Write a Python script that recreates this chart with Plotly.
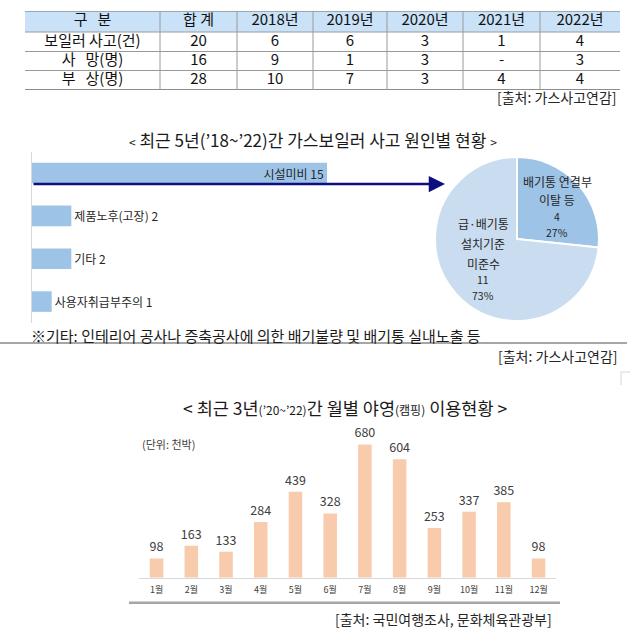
import plotly.graph_objects as go

FONT = "Noto Sans CJK KR"

# ---------------- data ----------------
table_header = ["구\u00a0\u00a0\u00a0분", "합\u00a0계", "2018년", "2019년", "2020년", "2021년", "2022년"]
row_labels = ["보일러 사고(건)", "사\u00a0\u00a0\u00a0망(명)", "부\u00a0\u00a0\u00a0상(명)"]
col_total = ["20", "16", "28"]
col_2018 = ["6", "9", "10"]
col_2019 = ["6", "1", "7"]
col_2020 = ["3", "3", "3"]
col_2021 = ["1", "-", "4"]
col_2022 = ["4", "3", "4"]

cause_labels = ["시설미비", "제품노후(고장)", "기타", "사용자취급부주의"]
cause_counts = [15, 2, 2, 1]

pie_labels = ["배기통 연결부<br>이탈 등", "급·배기통<br>설치기준<br>미준수"]
pie_values = [4, 11]

months = ["1월", "2월", "3월", "4월", "5월", "6월", "7월", "8월", "9월", "10월", "11월", "12월"]
camping = [98, 163, 133, 284, 439, 328, 680, 604, 253, 337, 385, 98]

W, H = 640, 644
def px(x):
    return x / W
def py(y):
    return 1 - y / H

fig = go.Figure()

# ---------------- table (text on its own cartesian axes) ----------------
col_widths = [135, 77, 76, 74, 76, 77, 80]
row_heights = [21, 19.5, 19, 19.5]
col_edges = [sum(col_widths[:i]) for i in range(len(col_widths) + 1)]
row_edges = [sum(row_heights[:i]) for i in range(len(row_heights) + 1)]
col_centers = [(col_edges[i] + col_edges[i + 1]) / 2 for i in range(len(col_widths))]
row_centers = [(row_edges[i] + row_edges[i + 1]) / 2 for i in range(len(row_heights))]

body_cols = [row_labels, col_total, col_2018, col_2019, col_2020, col_2021, col_2022]
tx, ty, tt = [], [], []
for ci, h in enumerate(table_header):
    tx.append(col_centers[ci]); ty.append(row_centers[0]); tt.append(h)
for ci, col in enumerate(body_cols):
    for ri, v in enumerate(col):
        tx.append(col_centers[ci]); ty.append(row_centers[ri + 1]); tt.append(v)
fig.add_trace(go.Scatter(
    x=tx, y=ty, text=tt, mode="text", textposition="middle center",
    textfont=dict(family=FONT, size=15, color="#111111"),
    xaxis="x3", yaxis="y3", hoverinfo="skip", cliponaxis=False,
))

# ---------------- horizontal bars ----------------
fig.add_trace(go.Bar(
    y=cause_labels, x=cause_counts, orientation="h",
    marker=dict(color="#9dc3e6", line=dict(width=0)),
    text=[f"{l} {v}" for l, v in zip(cause_labels, cause_counts)],
    textposition=["inside", "outside", "outside", "outside"],
    insidetextanchor="end",
    textfont=dict(family=FONT, size=12, color="#262626"),
    constraintext="none", cliponaxis=False,
    xaxis="x", yaxis="y", width=0.48, hoverinfo="skip",
))

# ---------------- pie ----------------
fig.add_trace(go.Pie(
    labels=pie_labels, values=pie_values, textinfo="none",
    marker=dict(colors=["#9dc3e6", "#c9dcf0"], line=dict(color="white", width=2)),
    sort=False, direction="clockwise", rotation=0,
    domain=dict(x=[px(435), px(599)], y=[py(321), py(157)]),
    showlegend=False, hoverinfo="skip",
))

# ---------------- monthly bars ----------------
fig.add_trace(go.Bar(
    x=months, y=camping,
    marker=dict(color="#f8cbad", line=dict(width=0)),
    text=[str(v) for v in camping], textposition="outside",
    textfont=dict(family=FONT, size=12.5, color="#404040"),
    constraintext="none", cliponaxis=False, width=0.39,
    xaxis="x2", yaxis="y2", hoverinfo="skip",
))

fig.update_layout(
    width=W, height=H, margin=dict(l=0, r=0, t=0, b=0),
    paper_bgcolor="white", plot_bgcolor="white", showlegend=False,
    font=dict(family=FONT, color="#262626"),
    xaxis=dict(domain=[px(32), px(327)], range=[0, 15], showgrid=False,
               zeroline=False, showticklabels=False, fixedrange=True),
    yaxis=dict(domain=[py(323), py(151.6)], autorange="reversed", showgrid=False,
               zeroline=False, showticklabels=False, showline=True,
               linecolor="#d9d9d9", linewidth=1, anchor="x"),
    xaxis2=dict(domain=[px(139.2), px(555.9)], anchor="y2", showgrid=False,
                zeroline=False, showline=True, linecolor="#d9d9d9", linewidth=1,
                ticks="", tickfont=dict(family=FONT, size=9, color="#404040"),
                ticklabelstandoff=3),
    yaxis2=dict(domain=[py(577.7), py(430.7)], anchor="x2", range=[0, 750],
                visible=False),
    xaxis3=dict(domain=[px(25), px(620)], anchor="y3", range=[0, col_edges[-1]],
                visible=False),
    yaxis3=dict(domain=[py(11 + row_edges[-1]), py(11)], anchor="x3",
                range=[row_edges[-1], 0], visible=False),
)

# ---------------- texts / decorations ----------------
ann = []
ann.append(dict(text="[출처: 가스사고연감]", x=px(619), y=py(97), xanchor="right", yanchor="middle",
                font=dict(size=14, color="#262626")))
ann.append(dict(text="<span style='font-size:12px'>&lt;</span> 최근 5년(’18~’22)간 가스보일러 사고 원인별 현황 <span style='font-size:12px'>&gt;</span>",
                x=px(313), y=py(140), xanchor="center", yanchor="middle",
                font=dict(size=17, color="#1a1a1a")))
ann.append(dict(text="", x=px(445), y=py(184), ax=-(445 - 32), ay=0,
                axref="pixel", ayref="pixel", showarrow=True, arrowhead=2,
                arrowsize=1.3, arrowwidth=2.5, arrowcolor="#0e0e7e", standoff=0))

# pie labels
pie_text_pos = [
    dict(x=557, ys=[182, 200], vy=217, py_=232),
    dict(x=483, ys=[223, 244, 263], vy=280, py_=295),
]
total = sum(pie_values)
for lbl, val, pos in zip(pie_labels, pie_values, pie_text_pos):
    for line, yy in zip(lbl.split("<br>"), pos["ys"]):
        ann.append(dict(text=line, x=px(pos["x"]), y=py(yy), xanchor="center", yanchor="middle",
                        font=dict(size=12, color="#262626")))
    ann.append(dict(text=str(val), x=px(pos["x"]), y=py(pos["vy"]), xanchor="center", yanchor="middle",
                    font=dict(size=10.5, color="#262626")))
    ann.append(dict(text=f"{round(100 * val / total)}%", x=px(pos["x"]), y=py(pos["py_"]),
                    xanchor="center", yanchor="middle", font=dict(size=10.5, color="#262626")))

ann.append(dict(text="※기타: 인테리어 공사나 증축공사에 의한 배기불량 및 배기통 실내노출 등",
                x=px(29), y=py(335), xanchor="left", yanchor="middle",
                font=dict(size=15, color="#1a1a1a")))
ann.append(dict(text="[출처: 가스사고연감]", x=px(620), y=py(356), xanchor="right", yanchor="middle",
                font=dict(size=14, color="#262626")))
ann.append(dict(text="&lt; 최근 3년<span style='font-size:12px'>(’20~’22)</span>간 월별 야영<span style='font-size:12px'>(캠핑)</span> 이용현황 &gt;",
                x=px(345), y=py(407), xanchor="center", yanchor="middle",
                font=dict(size=17.5, color="#1a1a1a")))
ann.append(dict(text="(단위: 천박)", x=px(140), y=py(444), xanchor="left", yanchor="middle",
                font=dict(size=11, color="#404040")))
ann.append(dict(text="[출처: 국민여행조사, 문화체육관광부]", x=px(554), y=py(619), xanchor="right", yanchor="middle",
                font=dict(size=14, color="#262626")))
for a in ann:
    a.setdefault("xref", "paper")
    a.setdefault("yref", "paper")
    a.setdefault("showarrow", False)
fig.update_layout(annotations=ann)

shapes = [
    dict(type="line", xref="paper", yref="paper", x0=px(0), x1=px(627), y0=py(343), y1=py(343),
         line=dict(color="#a6a6a6", width=2)),
    dict(type="line", xref="paper", yref="paper", x0=px(129), x1=px(560), y0=py(602.7), y1=py(602.7),
         line=dict(color="#a6a6a6", width=2.5)),
    dict(type="line", xref="paper", yref="paper", x0=px(621), x1=px(621), y0=py(372), y1=py(385),
         line=dict(color="#d6d6d6", width=1)),
    dict(type="line", xref="paper", yref="paper", x0=px(621), x1=px(630), y0=py(372), y1=py(372),
         line=dict(color="#d6d6d6", width=1)),
]
# table: header fill and rules (in table axis units)
shapes.append(dict(type="rect", xref="x3", yref="y3", x0=0, x1=col_edges[-1], y0=0, y1=row_edges[1],
                   fillcolor="#c9e2f7", line=dict(width=0), layer="below"))
for i, ye in enumerate(row_edges):
    if i == 0:
        ln = dict(color="#6f6f6f", width=1.2)
    elif i == len(row_edges) - 1:
        ln = dict(color="#8c8c8c", width=2)
    else:
        ln = dict(color="#9a9a9a", width=1)
    shapes.append(dict(type="line", xref="x3", yref="y3", x0=0, x1=col_edges[-1], y0=ye, y1=ye, line=ln))
for xe in col_edges[1:-1]:
    shapes.append(dict(type="line", xref="x3", yref="y3", x0=xe, x1=xe, y0=0, y1=row_edges[-1],
                       line=dict(color="#9a9a9a", width=1)))
fig.update_layout(shapes=shapes)

fig.write_html("out.html", config={"displayModeBar": False},
               post_script="document.body.style.margin='0px';")
